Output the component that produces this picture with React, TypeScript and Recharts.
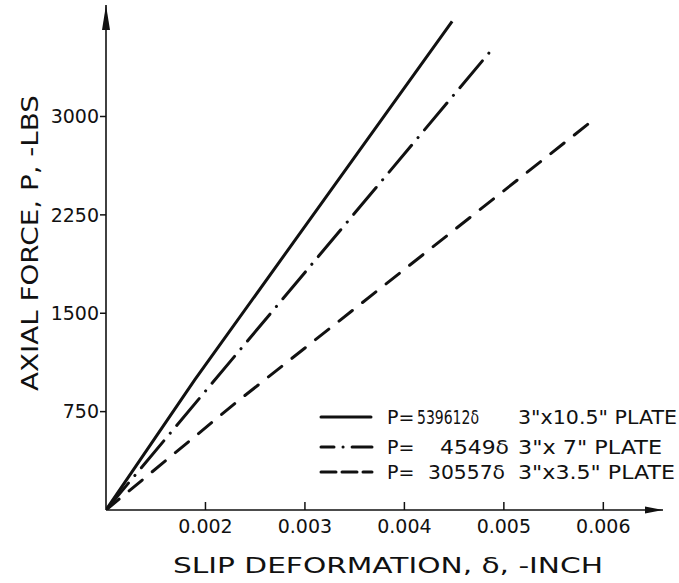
import React from 'react';
import { LineChart, Line, XAxis, YAxis, ReferenceDot, Legend, Label } from 'recharts';

const xTicks = [0.002, 0.003, 0.004, 0.005, 0.006];
const yTicks = [750, 1500, 2250, 3000];
const plate105 = [
  { x: 0.001, y: 0 },
  { x: 0.00189, y: 990 },
  { x: 0.00448, y: 3725 },
];
const plate7 = [
  { x: 0.001, y: 0 },
  { x: 0.00207, y: 970 },
  { x: 0.00488, y: 3511 },
];
const plate35 = [
  { x: 0.001, y: 0 },
  { x: 0.0023, y: 815 },
  { x: 0.00588, y: 2962 },
];
const legendNumbers = ['539612δ', '4549δ', '30557δ'];
const legendPlates = ['3"x10.5" PLATE', '3"x 7" PLATE', '3"x3.5" PLATE'];
const xTitle = 'SLIP DEFORMATION, δ, -INCH';
const yTitle = 'AXIAL FORCE, P, -LBS';

const FONT = 'DejaVu Sans, sans-serif';
const INK = '#111';

const XTick = (props: any) => {
  const { x, y, payload } = props;
  return (
    <g>
      <line x1={x} y1={y} x2={x} y2={y - 8} stroke={INK} strokeWidth={1.5} />
      <text x={x} y={y + 23} textAnchor="middle" fontSize={19} fontFamily={FONT} fill={INK}>
        {payload.value.toFixed(3)}
      </text>
    </g>
  );
};

const RightArrow = (props: any) => {
  const { cx, cy } = props;
  return <path d={`M${cx - 18},${cy - 3.5} L${cx},${cy} L${cx - 18},${cy + 3.5} Z`} fill={INK} />;
};
const UpArrow = (props: any) => {
  const { cx, cy } = props;
  return <path d={`M${cx - 4},${cy + 25} L${cx},${cy} L${cx + 4},${cy + 25} Z`} fill={INK} />;
};

const LegendBox = () => {
  const rows = [417, 447, 472];
  const numX = [417, 440, 428];
  const numLen = [62, 69, 77];
  const plateLen = [159, 144, 157];
  return (
    <svg width={679} height={583} style={{ display: 'block' }}>
      <line x1={321} y1={rows[0]} x2={371} y2={rows[0]} stroke={INK} strokeWidth={3} strokeLinecap="round" />
      <line x1={321} y1={rows[1]} x2={372} y2={rows[1]} stroke={INK} strokeWidth={3} strokeLinecap="round" strokeDasharray="13 9 0.1 9 30" />
      <line x1={321} y1={rows[2]} x2={372} y2={rows[2]} stroke={INK} strokeWidth={3} strokeLinecap="round" strokeDasharray="15 6" />
      {rows.map((cy, i) => (
        <g key={i} fontFamily={FONT} fontSize={19} fill={INK}>
          <text x={387} y={cy + 7}>P=</text>
          <text x={numX[i]} y={cy + 7} textLength={numLen[i]} lengthAdjust="spacingAndGlyphs">{legendNumbers[i]}</text>
          <text x={518} y={cy + 7} textLength={plateLen[i]} lengthAdjust="spacingAndGlyphs">{legendPlates[i]}</text>
        </g>
      ))}
    </svg>
  );
};

export default function App() {
  return (
    <div style={{ position: 'absolute', left: 0, top: 0, background: '#fff' }}>
      <LineChart width={679} height={583} margin={{ top: 5, right: 16, bottom: 33, left: 46 }}>
        <XAxis
          type="number"
          dataKey="x"
          domain={[0.001, 0.0066]}
          ticks={xTicks}
          allowDataOverflow
          height={40}
          tickSize={0}
          tickMargin={0}
          tickLine={false}
          axisLine={{ stroke: INK, strokeWidth: 1.6 }}
          tick={<XTick />}
        >
          <Label
            content={() => (
              <text x={388} y={573} textAnchor="middle" fontSize={21} fontFamily={FONT} fill={INK} textLength={430} lengthAdjust="spacingAndGlyphs">
                {xTitle}
              </text>
            )}
          />
        </XAxis>
        <YAxis
          type="number"
          dataKey="y"
          domain={[0, 3850]}
          ticks={yTicks}
          allowDataOverflow
          width={60}
          tickSize={6}
          tickMargin={1}
          axisLine={{ stroke: INK, strokeWidth: 1.6 }}
          tickLine={{ stroke: INK, strokeWidth: 1.5 }}
          tick={{ fontSize: 19, fontFamily: FONT, fill: INK }}
        >
          <Label
            content={() => (
              <text x={30} y={243} dy={8} textAnchor="middle" fontSize={23} fontFamily={FONT} fill={INK} transform="rotate(-90, 30, 243)" textLength={296} lengthAdjust="spacingAndGlyphs">
                {yTitle}
              </text>
            )}
          />
        </YAxis>
        <Line data={plate105} dataKey="y" type="linear" stroke={INK} strokeWidth={3} dot={false} isAnimationActive={false} />
        <Line data={plate7} dataKey="y" type="linear" stroke={INK} strokeWidth={3} strokeLinecap="round" strokeDasharray="35 10 0.1 10" dot={false} isAnimationActive={false} />
        <Line data={plate35} dataKey="y" type="linear" stroke={INK} strokeWidth={3} strokeLinecap="round" strokeDasharray="17 13" dot={false} isAnimationActive={false} />
        <ReferenceDot x={0.0066} y={0} r={0} shape={<RightArrow />} ifOverflow="visible" />
        <ReferenceDot x={0.001} y={3850} r={0} shape={<UpArrow />} ifOverflow="visible" />
        <Legend
          layout="vertical"
          align="center"
          verticalAlign="middle"
          content={() => <LegendBox />}
          wrapperStyle={{ position: 'absolute', left: 0, top: 0, width: 679, height: 583, pointerEvents: 'none' }}
        />
      </LineChart>
    </div>
  );
}
